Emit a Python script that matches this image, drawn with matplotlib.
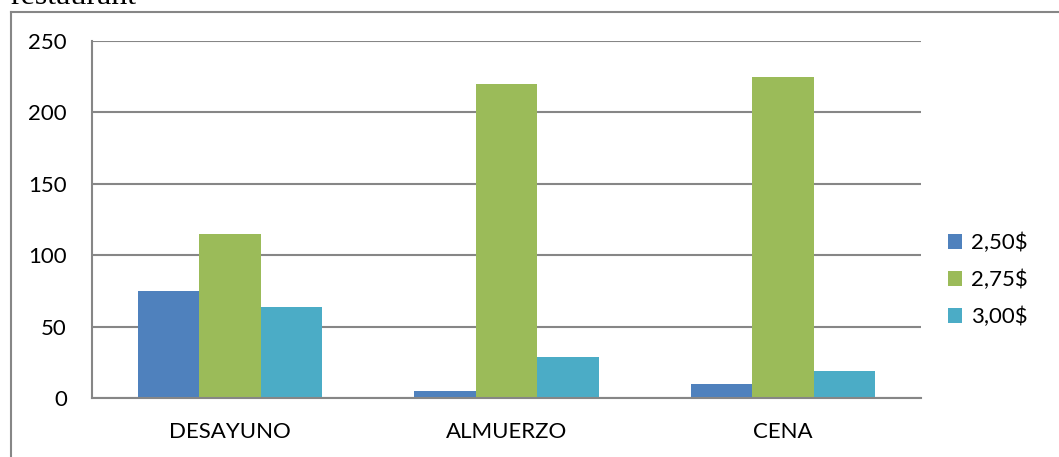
import matplotlib.pyplot as plt
import numpy as np

categories = ['DESAYUNO', 'ALMUERZO', 'CENA']
series_names = ['2,50$', '2,75$', '3,00$']
v_250 = [75, 5, 10]
v_275 = [115, 220, 225]
v_300 = [64, 29, 19]
yticks = [0, 50, 100, 150, 200, 250]

colors = ['#4F81BD', '#9BBB59', '#4BACC6']
grid_c = '#868686'

plt.rcParams['font.family'] = ['Lato', 'DejaVu Sans']

fig = plt.figure(figsize=(10.59, 4.57), dpi=100)
ax = fig.add_axes([92 / 1059, 59 / 457, 829 / 1059, 357 / 457])

x = np.arange(len(categories))
w = 1 / 4.5
for i, (vals, name) in enumerate(zip([v_250, v_275, v_300], series_names)):
    ax.bar(x + (i - 1) * w, vals, width=w, color=colors[i], label=name, zorder=3)

ax.set_xlim(-0.5, len(categories) - 0.5)
ax.set_ylim(0, 250)
ax.set_yticks(yticks)
ax.set_xticks(x)
ax.set_xticklabels(categories)
ax.yaxis.grid(True, color=grid_c, lw=1.5, zorder=0)
ax.tick_params(length=0, labelsize=16)
ax.tick_params(axis='y', pad=18)
ax.tick_params(axis='x', pad=17)
for s in ['top', 'right']:
    ax.spines[s].set_visible(False)
for s in ['left', 'bottom']:
    ax.spines[s].set_color(grid_c)
    ax.spines[s].set_linewidth(1.5)
    ax.spines[s].set_zorder(4)

ax.legend(loc='center left', bbox_to_anchor=(948 / 1059, 1 - 280 / 457),
          bbox_transform=fig.transFigure, frameon=False, fontsize=16,
          handlelength=0.65, handleheight=0.65, handletextpad=0.4,
          labelspacing=0.75, borderpad=0, borderaxespad=0)

# outer chart border (cut off at the right and bottom)
bx = 10.5 / 1059
by = 1 - 11.5 / 457
fig.add_artist(plt.Line2D([bx, bx], [0, by], color=grid_c, lw=1.5))
fig.add_artist(plt.Line2D([bx, 1.0], [by, by], color=grid_c, lw=1.5))

fig.text(10 / 1059, 1 - 3.5 / 457, 'restaurant', family='Liberation Serif',
         fontsize=23, va='baseline', ha='left')

fig.savefig('out.png', dpi=100)
